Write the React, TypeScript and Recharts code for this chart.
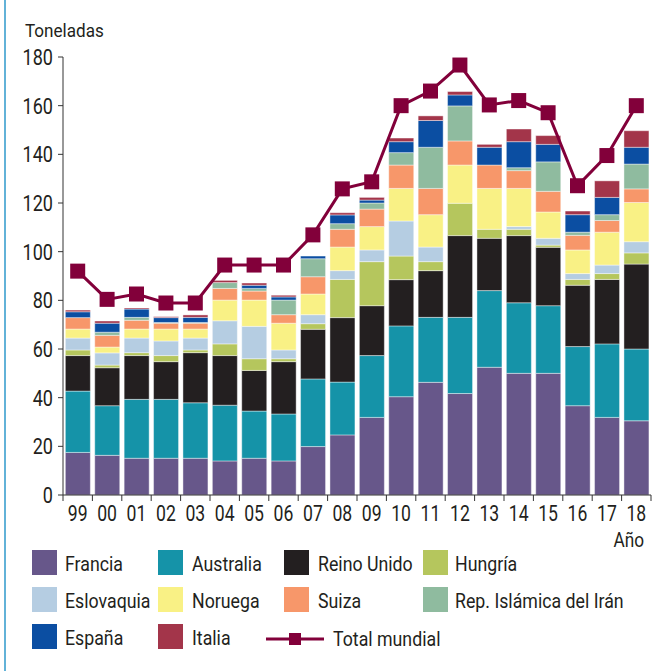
import React from 'react';
import { ComposedChart, Bar, Line, XAxis, YAxis } from 'recharts';

const years = ['99', '00', '01', '02', '03', '04', '05', '06', '07', '08', '09', '10', '11', '12', '13', '14', '15', '16', '17', '18'];

const francia = [17.5, 16.3, 15.1, 15.1, 15.1, 14.0, 15.1, 14.0, 19.9, 24.7, 31.9, 40.4, 46.3, 41.7, 52.5, 50.0, 50.0, 36.7, 31.9, 30.5];
const australia = [25.2, 20.4, 24.2, 24.2, 22.8, 22.9, 19.4, 19.3, 27.8, 21.7, 25.4, 29.1, 26.7, 31.3, 31.5, 29.0, 27.8, 24.3, 30.2, 29.5];
const reinoUnido = [14.6, 15.6, 18.0, 15.5, 20.6, 20.4, 16.7, 21.5, 20.4, 26.5, 20.5, 19.0, 19.2, 33.6, 21.5, 27.6, 24.0, 25.2, 26.5, 34.9];
const hungria = [2.3, 1.1, 1.2, 2.5, 1.1, 4.8, 4.8, 1.2, 2.3, 15.7, 18.1, 9.7, 3.7, 13.3, 3.7, 2.6, 0.9, 2.4, 2.4, 4.6];
const eslovaquia = [4.9, 5.0, 6.0, 6.0, 4.9, 9.5, 13.3, 3.6, 3.7, 3.6, 4.8, 14.4, 6.0, 0, 0, 1.1, 2.8, 2.4, 3.5, 4.6];
const noruega = [3.7, 2.4, 3.7, 4.9, 3.7, 8.5, 10.8, 11.0, 8.5, 9.7, 9.6, 13.4, 13.3, 15.7, 16.8, 15.7, 10.8, 9.7, 13.5, 16.1];
const suiza = [4.7, 4.8, 3.6, 2.4, 2.4, 4.8, 3.7, 3.5, 7.1, 7.3, 7.2, 9.6, 10.8, 9.9, 9.6, 7.3, 8.5, 6.0, 4.8, 5.6];
const iran = [0, 1.3, 1.2, 0.3, 0.3, 2.4, 1.1, 6.0, 7.4, 2.3, 2.5, 5.1, 16.9, 14.4, 0, 1.2, 12.1, 1.3, 2.4, 10.2];
const espana = [2.4, 3.7, 3.4, 2.0, 2.1, 0, 1.3, 1.3, 1.1, 3.6, 1.2, 4.5, 11.0, 4.5, 7.3, 10.7, 7.2, 7.2, 7.1, 6.9];
const italia = [0.7, 0.9, 0.5, 0.4, 1.0, 0.9, 0.9, 0.7, 0, 0.9, 1.1, 1.5, 1.9, 1.4, 1.2, 5.2, 3.6, 1.5, 6.8, 6.8];
const totalMundial = [92, 80.4, 82.6, 78.9, 78.9, 94.5, 94.5, 94.5, 106.9, 125.8, 128.7, 160, 166, 176.7, 160.3, 162.1, 157.1, 127.1, 139.5, 160];

const yTicks = [0, 20, 40, 60, 80, 100, 120, 140, 160, 180];

const series = [
  { key: 'francia', name: 'Francia', color: '#67578a', values: francia },
  { key: 'australia', name: 'Australia', color: '#1593a8', values: australia },
  { key: 'reinoUnido', name: 'Reino Unido', color: '#231f20', values: reinoUnido },
  { key: 'hungria', name: 'Hungría', color: '#b5c65d', values: hungria },
  { key: 'eslovaquia', name: 'Eslovaquia', color: '#b5cde2', values: eslovaquia },
  { key: 'noruega', name: 'Noruega', color: '#f9f185', values: noruega },
  { key: 'suiza', name: 'Suiza', color: '#f7976a', values: suiza },
  { key: 'iran', name: 'Rep. Islámica del Irán', color: '#8fbb9f', values: iran },
  { key: 'espana', name: 'España', color: '#0b4ea2', values: espana },
  { key: 'italia', name: 'Italia', color: '#a3354a', values: italia },
];

const data = years.map((year, i) => {
  const row: Record<string, any> = { year, total: totalMundial[i] };
  series.forEach((s) => {
    row[s.key] = s.values[i];
  });
  return row;
});

// no condensed font installed, so Roboto gets squeezed horizontally
const FONT = "Roboto, 'Liberation Sans', sans-serif";
const INK = '#231f20';
const LINE_COLOR = '#82003a';

const PLOT_LEFT = 63;
const PLOT_RIGHT = 651;
const STEP = (PLOT_RIGHT - PLOT_LEFT) / years.length;

const NText = ({ x, y, size, sx = 0.82, anchor = 'start', dy = '0.36em', children }: any) => (
  <text
    transform={`translate(${x},${y}) scale(${sx},1)`}
    x={0}
    y={0}
    dy={dy}
    textAnchor={anchor}
    fill={INK}
    fontSize={size}
    fontFamily={FONT}
  >
    {children}
  </text>
);

const XTick = (props: any) => {
  const { x, y, payload, index } = props;
  const axisY = y - 10;
  const half = STEP / 2;
  return (
    <g>
      <line x1={x - half} y1={axisY} x2={x - half} y2={axisY + 6} stroke="#333" strokeWidth={1} />
      {index === years.length - 1 && (
        <line x1={x + half} y1={axisY} x2={x + half} y2={axisY + 6} stroke="#333" strokeWidth={1} />
      )}
      <NText x={x} y={y} size={22} sx={0.8} anchor="middle" dy="0.71em">
        {payload.value}
      </NText>
    </g>
  );
};

const YTick = (props: any) => {
  const { x, y, payload } = props;
  return (
    <NText x={x} y={y} size={22} anchor="end">
      {payload.value}
    </NText>
  );
};

const SquareDot = (props: any) => {
  const { cx, cy } = props;
  if (cx == null || cy == null) return null;
  return <rect x={cx - 7.5} y={cy - 7.5} width={15} height={15} fill={LINE_COLOR} />;
};

const legendCols = [
  { swatch: 32, text: 65 },
  { swatch: 158, text: 192 },
  { swatch: 284, text: 318 },
  { swatch: 423, text: 455 },
];
const legendRows = [550, 587, 624];

function Overlay() {
  return (
    <svg width={664} height={671} style={{ position: 'absolute', left: 0, top: 0, pointerEvents: 'none' }}>
      <NText x={25} y={30} size={19} sx={0.9}>
        Toneladas
      </NText>
      <NText x={644} y={539} size={21} anchor="end">
        Año
      </NText>
      {series.map((s, i) => {
        const col = legendCols[i % 4];
        const top = legendRows[Math.floor(i / 4)];
        return (
          <g key={s.key}>
            <rect x={col.swatch} y={top} width={25} height={25} fill={s.color} />
            <NText x={col.text} y={top + 13} size={21} sx={0.845}>
              {s.name}
            </NText>
          </g>
        );
      })}
      <line x1={266} y1={639} x2={324} y2={639} stroke={LINE_COLOR} strokeWidth={3} />
      <rect x={289} y={633} width={12} height={12} fill={LINE_COLOR} />
      <NText x={333} y={638} size={21} sx={0.845}>
        Total mundial
      </NText>
    </svg>
  );
}

export default function App() {
  return (
    <div style={{ position: 'absolute', left: 0, top: 0, width: 664, height: 671, background: '#fff', overflow: 'hidden' }}>
      <div style={{ position: 'absolute', left: 4, top: 0, width: 2, height: 671, background: '#62b2d8' }} />
      <ComposedChart
        width={664}
        height={671}
        data={data}
        margin={{ top: 57, right: 13, left: 8, bottom: 146 }}
        barCategoryGap="8%"
      >
        <XAxis
          dataKey="year"
          height={30}
          interval={0}
          tickSize={6}
          tickMargin={4}
          tickLine={false}
          axisLine={{ stroke: '#333' }}
          tick={<XTick />}
        />
        <YAxis
          width={55}
          domain={[0, 180]}
          ticks={yTicks}
          interval={0}
          tickSize={5}
          tickMargin={5}
          axisLine={{ stroke: '#333' }}
          tickLine={{ stroke: '#333' }}
          tick={<YTick />}
        />
        {series.map((s) => (
          <Bar
            key={s.key}
            dataKey={s.key}
            name={s.name}
            stackId="a"
            fill={s.color}
            stroke="#ffffff"
            strokeOpacity={0.6}
            strokeWidth={0.7}
            isAnimationActive={false}
          />
        ))}
        <Line
          type="linear"
          dataKey="total"
          name="Total mundial"
          stroke={LINE_COLOR}
          strokeWidth={3}
          dot={<SquareDot />}
          activeDot={false}
          isAnimationActive={false}
        />
      </ComposedChart>
      <Overlay />
    </div>
  );
}
